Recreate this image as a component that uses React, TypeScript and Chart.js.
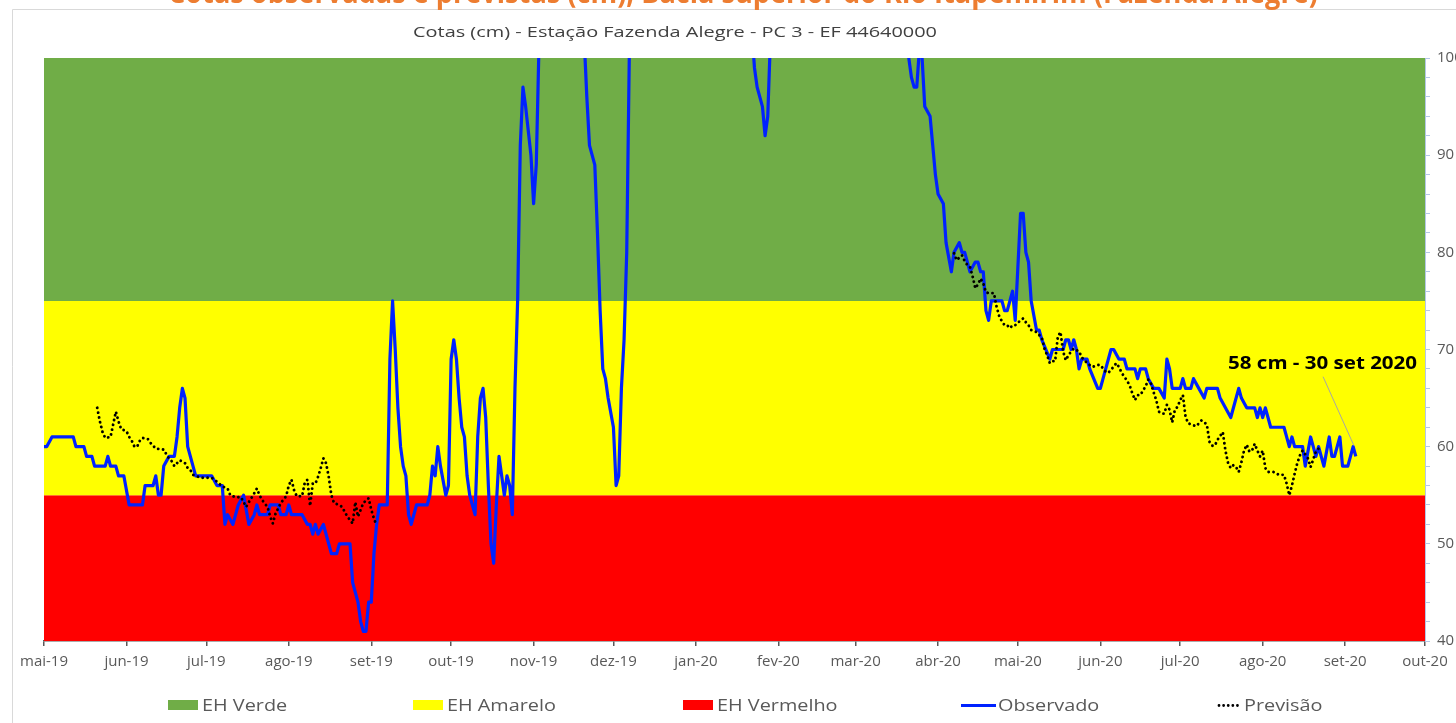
import React, { useEffect, useRef } from 'react';
import { Chart, registerables } from 'chart.js';

Chart.register(...registerables);

// ---------- Data ----------
const monthDays = [0, 31, 61, 92, 123, 153, 184, 214, 245, 276, 305, 336, 366, 397, 427, 458, 489, 519];
const monthLabels = ['mai-19', 'jun-19', 'jul-19', 'ago-19', 'set-19', 'out-19', 'nov-19', 'dez-19', 'jan-20', 'fev-20', 'mar-20', 'abr-20', 'mai-20', 'jun-20', 'jul-20', 'ago-20', 'set-20', 'out-20'];

// Observado (cm), day offset from 1 May 2019
const obsDays = [
  0, 1, 3, 11, 12, 15, 16, 18, 19, 23, 24, 25, 27, 28, 30, 32, 37, 38, 41, 42, 43, 44, 45, 47, 49, 50, 51, 52, 53, 54, 55, 56, 57, 63, 65, 67, 68, 69, 71, 73, 75, 77, 79, 80, 81, 84, 85, 88, 89, 91, 92, 93, 97, 99, 100, 101, 102, 103, 105, 106, 107, 108, 110, 111, 115, 116, 117, 118, 119, 120, 121, 122, 123, 124, 125, 126, 129, 130, 131, 132, 133, 134, 135, 136, 137, 138, 140, 144, 145, 146, 147, 148, 149, 151, 152, 153, 154, 155, 156, 157, 158, 159, 160, 161, 162, 163, 164, 165, 166, 167, 168, 169, 170, 171, 172, 173, 174, 175, 176, 177, 178, 179, 180, 181, 183, 184, 185, 186, 190, 198, 203, 204, 205, 207, 208, 209, 210, 211, 212, 214, 215, 216, 217, 218, 219, 220, 230, 255, 266, 267, 268, 269, 270, 271, 272, 273, 285, 315, 324, 325, 326, 327, 328, 329, 330, 331, 333, 334, 335, 336, 338, 339, 341, 342, 344, 345, 346, 348, 350, 351, 352, 353, 354, 355, 356, 360, 361, 362, 364, 365, 367, 368, 369, 370, 371, 373, 374, 375, 378, 379, 383, 384, 385, 386, 387, 388, 389, 390, 392, 393, 396, 397, 399, 401, 402, 404, 405, 406, 407, 410, 411, 412, 414, 415, 417, 419, 421, 422, 423, 424, 427, 428, 429, 431, 432, 434, 436, 437, 441, 442, 446, 449, 450, 452, 455, 456, 457, 458, 459, 460, 461, 466, 467, 468, 469, 470, 473, 474, 476, 477, 478, 479, 481, 483, 484, 485, 487, 488, 490, 491, 492, 493
];
const obsValues = [
  60, 60, 61, 61, 60, 60, 59, 59, 58, 58, 59, 58, 58, 57, 57, 54, 54, 56, 56, 57, 55, 55, 58, 59, 59, 61, 64, 66, 65, 60, 59, 58, 57, 57, 56, 56, 52, 53, 52, 54, 55, 52, 53, 54, 53, 53, 54, 54, 53, 53, 54, 53, 53, 52, 52, 51, 52, 51, 52, 51, 50, 49, 49, 50, 50, 46, 45, 44, 42, 41, 41, 44, 44, 49, 52, 54, 54, 69, 75, 70, 64, 60, 58, 57, 53, 52, 54, 54, 55, 58, 57, 60, 58, 55, 56, 69, 71, 69, 65, 62, 61, 57, 55, 54, 53, 61, 65, 66, 63, 56, 50, 48, 54, 59, 57, 55, 57, 56, 53, 66, 75, 91, 97, 95, 90, 85, 89, 101, 118, 118, 102, 96, 91, 89, 82, 74, 68, 67, 65, 62, 56, 57, 66, 71, 80, 101, 125, 125, 103, 99, 97, 96, 95, 92, 94, 102, 120, 120, 102, 100, 98, 97, 97, 101, 100, 95, 94, 91, 88, 86, 85, 81, 78, 80, 81, 80, 80, 78, 79, 79, 78, 78, 74, 73, 75, 75, 74, 74, 76, 73, 84, 84, 80, 79, 75, 72, 72, 71, 69, 70, 70, 71, 71, 70, 71, 70, 68, 69, 69, 68, 66, 66, 68, 70, 70, 69, 69, 69, 68, 68, 67, 68, 68, 67, 66, 66, 65, 69, 68, 66, 66, 67, 66, 66, 67, 66, 65, 66, 66, 65, 63, 66, 65, 64, 64, 63, 64, 63, 64, 63, 62, 62, 61, 60, 61, 60, 60, 58, 61, 60, 59, 60, 58, 61, 59, 59, 61, 58, 58, 59, 60, 59
];

// Previsão (cm) - two forecast periods
const fcst2019Days = [
  20, 21, 22, 23, 25, 26, 27, 28, 29, 31, 32, 33, 34, 35, 36, 37, 39, 40, 42, 45, 46, 47, 48, 49, 50, 51, 53, 54, 55, 56, 59, 63, 65, 67, 69, 70, 72, 74, 75, 76, 77, 79, 80, 81, 82, 84, 85, 86, 87, 89, 91, 92, 93, 94, 95, 97, 98, 99, 100, 101, 102, 103, 104, 105, 106, 107, 108, 109, 111, 112, 113, 114, 116, 117, 118, 120, 122, 123, 124, 125
];
const fcst2019Values = [
  64, 62.6, 61.5, 60.9, 61, 62.3, 63.6, 62.6, 61.8, 61.6, 61, 60.6, 60, 60, 60.6, 60.9, 60.8, 60.4, 59.8, 59.7, 59.2, 58.8, 58.5, 58, 58.3, 58.6, 58.3, 57.8, 57.6, 57.1, 56.8, 56.8, 56.4, 55.9, 55.7, 55, 54.8, 54.8, 54.3, 53.8, 54.3, 55.2, 55.7, 55, 54.5, 53.8, 52.8, 52.1, 53.1, 54.2, 54.9, 56, 56.6, 55.5, 54.9, 54.9, 56.3, 56.6, 53.9, 56.2, 56.2, 56.9, 57.8, 58.8, 58.3, 56.9, 55, 54.2, 54, 53.8, 53.3, 52.8, 52.1, 54.3, 52.8, 54.2, 54.7, 53.5, 52.6, 51.9
];
const fcst2020Days = [
  342, 343, 345, 346, 347, 348, 349, 350, 351, 352, 353, 354, 355, 357, 358, 359, 360, 361, 362, 363, 364, 365, 367, 368, 369, 370, 371, 373, 374, 375, 376, 377, 378, 379, 380, 381, 382, 383, 384, 385, 386, 387, 389, 390, 392, 394, 396, 397, 399, 400, 401, 403, 404, 405, 407, 408, 409, 410, 411, 412, 414, 415, 416, 417, 418, 419, 420, 421, 422, 423, 424, 425, 426, 427, 428, 429, 430, 432, 433, 435, 437, 438, 439, 440, 441, 443, 444, 445, 446, 447, 448, 449, 450, 451, 452, 453, 454, 455, 456, 457, 458, 459, 460, 462, 463, 464, 466, 467, 468, 469, 470, 471, 472, 473, 474, 475, 476, 477, 478, 479
];
const fcst2020Values = [
  79.9, 79.2, 79.7, 79.1, 78.7, 78.5, 77.5, 76.3, 76.7, 77.3, 76.8, 75.9, 75.8, 75.8, 74.4, 73.4, 72.9, 72.5, 72.5, 72.2, 72.5, 72.5, 73, 73.2, 72.8, 72.5, 72, 71.8, 71.5, 71.2, 70.1, 69.4, 68.6, 68.8, 68.8, 71.3, 71.8, 69.8, 68.9, 69.4, 69.8, 70.1, 69.8, 69.2, 68.6, 68.2, 68.4, 68.4, 67.7, 67.6, 67.9, 68.6, 68.2, 67.6, 66.8, 66.3, 65.5, 64.8, 65.3, 65.3, 66.2, 66.9, 66.5, 65.6, 64.8, 63.6, 63.4, 63.4, 64.3, 63.8, 62.5, 63.8, 64.1, 64.8, 65.3, 63.1, 62.4, 62.2, 62.1, 62.7, 62.3, 60.5, 60.1, 60.1, 60.7, 61.5, 59.6, 58.3, 57.8, 58.1, 57.9, 57.4, 58.4, 59.6, 60.2, 59.5, 59.6, 60.3, 59.6, 59, 59.6, 57.8, 57.4, 57.4, 57.3, 57.1, 57.1, 56.2, 55, 56, 57.2, 58.3, 59.1, 59.6, 59.2, 58.8, 57.9, 58.7, 59.5, 59.8
];

// Estado hidrológico bands (cm)
const bandNames = ['EH Verde', 'EH Amarelo', 'EH Vermelho'];
const bandTops = [100, 75, 55];
const bandBottoms = [75, 55, 40];
const bandColors = ['#70AD47', '#FFFF00', '#FF0000'];

// right axis ticks (major every 10 with labels, minor every 2)
const yTickValues = [40, 42, 44, 46, 48, 50, 52, 54, 56, 58, 60, 62, 64, 66, 68, 70, 72, 74, 76, 78, 80, 82, 84, 86, 88, 90, 92, 94, 96, 98, 100];
const yTickLabels = ['40', '50', '60', '70', '80', '90', '100'];

const headerText = 'Cotas observadas e previstas (cm), Bacia superior do Rio Itapemirim (Fazenda Alegre)';
const titleText = 'Cotas (cm) - Estação Fazenda Alegre - PC 3 - EF 44640000';
const annotationText = '58 cm - 30 set 2020';
// annotation anchors, in data units (day, cm)
const annotAnchor = { day: 480.5, cm: 67.96 };
const leaderFrom = { day: 480.7, cm: 67.2 };
const leaderTo = { day: 492.3, cm: 60.1 };

const FONT = "'Open Sans', 'DejaVu Sans', sans-serif";

function drawFitted(ctx: CanvasRenderingContext2D, text: string, x: number, baseline: number, width: number | null, font: string, color: string, sx = 1, align: 'left' | 'center' = 'left') {
  ctx.save();
  ctx.font = font;
  ctx.fillStyle = color;
  ctx.textBaseline = 'alphabetic';
  ctx.textAlign = 'left';
  const w = ctx.measureText(text).width;
  const scale = width ? width / w : sx;
  const left = align === 'center' ? x - (w * scale) / 2 : x;
  ctx.translate(left, baseline);
  ctx.scale(scale, 1);
  ctx.fillText(text, 0, 0);
  ctx.restore();
}

const decorPlugin = {
  id: 'decor',
  beforeDraw(chart: any) {
    const ctx: CanvasRenderingContext2D = chart.ctx;
    ctx.save();
    ctx.fillStyle = '#ffffff';
    ctx.fillRect(0, 0, chart.width, chart.height);
    ctx.strokeStyle = '#d9d9d9';
    ctx.lineWidth = 1;
    ctx.beginPath();
    ctx.moveTo(12.5, chart.height);
    ctx.lineTo(12.5, 9.5);
    ctx.lineTo(chart.width, 9.5);
    ctx.stroke();
    ctx.restore();
    drawFitted(ctx, headerText, 168, 3, 1150, `bold 30px ${FONT}`, '#ED7D31');
  },
  afterDraw(chart: any) {
    const ctx: CanvasRenderingContext2D = chart.ctx;
    const xs = chart.scales.x;
    const ys = chart.scales.y;
    // title
    drawFitted(ctx, titleText, 413, 37, 524, `15px ${FONT}`, '#404040');

    // annotation
    const ax = xs.getPixelForValue(annotAnchor.day);
    const ay = ys.getPixelForValue(annotAnchor.cm);
    drawFitted(ctx, annotationText, ax, ay, 189, `bold 18.5px ${FONT}`, '#000000', 1, 'center');
    ctx.save();
    ctx.strokeStyle = '#a6a6a6';
    ctx.lineWidth = 1;
    ctx.beginPath();
    ctx.moveTo(xs.getPixelForValue(leaderFrom.day), ys.getPixelForValue(leaderFrom.cm));
    ctx.lineTo(xs.getPixelForValue(leaderTo.day), ys.getPixelForValue(leaderTo.cm));
    ctx.stroke();
    ctx.restore();

    // legend
    const legendFont = `16px ${FONT}`;
    const sx = 1.24;
    const base = 711;
    const boxes = [168, 413, 683];
    bandNames.forEach((name, i) => {
      ctx.save();
      ctx.fillStyle = bandColors[i];
      ctx.fillRect(boxes[i], 700, 30, 10);
      ctx.restore();
      drawFitted(ctx, name, boxes[i] + 34, base, null, legendFont, '#595959', sx);
    });
    ctx.save();
    ctx.strokeStyle = '#0022FF';
    ctx.lineWidth = 3;
    ctx.beginPath();
    ctx.moveTo(961, 705.5);
    ctx.lineTo(996, 705.5);
    ctx.stroke();
    ctx.strokeStyle = '#000000';
    ctx.lineWidth = 2.8;
    ctx.lineCap = 'round';
    ctx.setLineDash([0.01, 4.6]);
    ctx.beginPath();
    ctx.moveTo(1219, 705.5);
    ctx.lineTo(1241, 705.5);
    ctx.stroke();
    ctx.restore();
    drawFitted(ctx, 'Observado', 998, base, null, legendFont, '#595959', sx);
    drawFitted(ctx, 'Previsão', 1244, base, null, legendFont, '#595959', sx);
  },
};

export default function App() {
  const ref = useRef<HTMLCanvasElement>(null);

  useEffect(() => {
    if (!ref.current) return;
    const forecastData: any[] = [
      ...fcst2019Days.map((d, i) => ({ x: d, y: fcst2019Values[i] })),
      { x: 200, y: null },
      ...fcst2020Days.map((d, i) => ({ x: d, y: fcst2020Values[i] })),
    ];
    const obsData = obsDays.map((d, i) => ({ x: d, y: obsValues[i] }));
    const first = monthDays[0];
    const last = monthDays[monthDays.length - 1];
    const bandSets = bandNames.map((name, i) => ({
      label: name,
      data: [{ x: first, y: bandTops[i] }, { x: last, y: bandTops[i] }],
      borderWidth: 0,
      borderColor: bandColors[i],
      backgroundColor: bandColors[i],
      pointRadius: 0,
      fill: { value: bandBottoms[i] },
    }));

    const chart = new Chart(ref.current, {
      type: 'line',
      data: {
        datasets: [
          {
            label: 'Previsão',
            data: forecastData,
            borderColor: '#000000',
            borderWidth: 2.9,
            borderDash: [0.01, 4.9],
            borderCapStyle: 'round',
            pointRadius: 0,
            fill: false,
            spanGaps: false,
            clip: 0,
          } as any,
          {
            label: 'Observado',
            data: obsData,
            borderColor: '#0022FF',
            borderWidth: 3.2,
            borderJoinStyle: 'round',
            pointRadius: 0,
            fill: false,
            clip: 0,
          } as any,
          ...(bandSets as any[]),
        ],
      },
      options: {
        animation: false,
        responsive: false,
        maintainAspectRatio: false,
        devicePixelRatio: 1,
        events: [],
        layout: { padding: { left: 44, top: 58, right: 0, bottom: 0 } },
        plugins: {
          legend: { display: false },
          title: { display: false },
          tooltip: { enabled: false },
        },
        scales: {
          x: {
            type: 'linear',
            min: first,
            max: last,
            afterBuildTicks: (scale: any) => {
              scale.ticks = monthDays.map((v) => ({ value: v }));
            },
            afterFit: (scale: any) => {
              scale.height = 82;
            },
            ticks: {
              autoSkip: false,
              maxRotation: 0,
              padding: 7,
              color: '#595959',
              font: { family: FONT, size: 15 },
              callback: (value: any) => {
                const idx = monthDays.indexOf(Number(value));
                return idx >= 0 ? monthLabels[idx] : '';
              },
            },
            grid: {
              drawOnChartArea: false,
              drawTicks: true,
              tickLength: 5,
              color: '#595959',
              lineWidth: 1.5,
            },
            border: { display: true, color: '#595959', width: 1.5 },
          },
          y: {
            type: 'linear',
            position: 'right',
            min: yTickValues[0],
            max: yTickValues[yTickValues.length - 1],
            afterBuildTicks: (scale: any) => {
              scale.ticks = yTickValues.map((v) => ({ value: v }));
            },
            afterFit: (scale: any) => {
              scale.width = 31;
            },
            ticks: {
              autoSkip: false,
              padding: 7,
              color: '#595959',
              font: { family: FONT, size: 15 },
              callback: (value: any) => {
                const s = String(value);
                return yTickLabels.includes(s) ? s : '';
              },
            },
            grid: {
              drawOnChartArea: false,
              drawTicks: true,
              tickLength: 5,
              color: '#B4C7E7',
              lineWidth: 1,
            },
            border: { display: true, color: '#B4C7E7', width: 1 },
          },
        },
      } as any,
      plugins: [decorPlugin as any],
    });
    return () => chart.destroy();
  }, []);

  return (
    <div style={{ position: 'fixed', left: 0, top: 0, width: 1456, height: 723, overflow: 'hidden', background: '#ffffff' }}>
      <canvas ref={ref} width={1456} height={723} style={{ width: 1456, height: 723, display: 'block' }} />
    </div>
  );
}
